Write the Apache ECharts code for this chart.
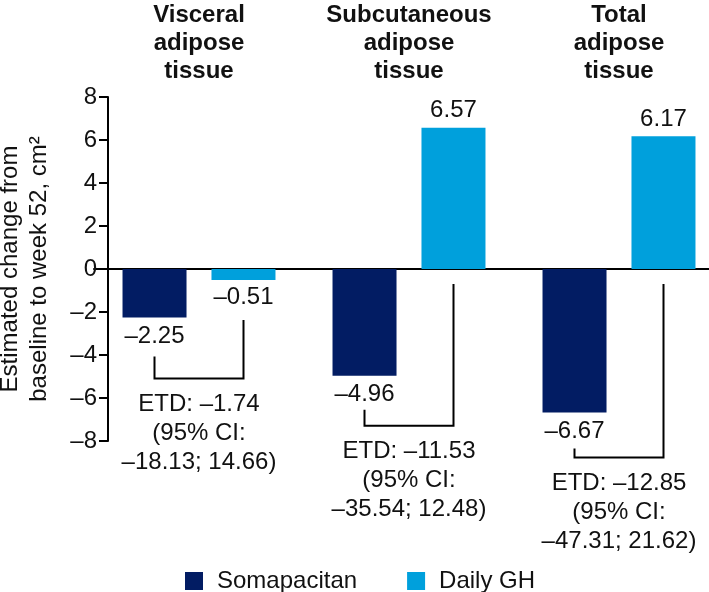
<!DOCTYPE html>
<html><head><meta charset="utf-8">
<script src="https://cdn.jsdelivr.net/npm/echarts@6/dist/echarts.min.js"></script>
<style>html,body{margin:0;padding:0;background:#fff}#c{width:709px;height:592px}</style>
</head><body><div id="c"></div>
<script>
const categories = ['Visceral\nadipose\ntissue', 'Subcutaneous\nadipose\ntissue', 'Total\nadipose\ntissue'];
const somapacitan = [-2.25, -4.96, -6.67];
const dailyGH = [-0.51, 6.57, 6.17];
const etd = [-1.74, -11.53, -12.85];
const ciLow = [-18.13, -35.54, -47.31];
const ciHigh = [14.66, 12.48, 21.62];
const yTicks = {min: -8, max: 8, interval: 2};

// layout-only constants (pixels)
const leftGap = [39, 34, 36];
const dropGap = [61, 50, 45];
const barOff = 44.5;

const NAVY = '#021c63';
const LIGHT = '#00a0dc';
const TXT = '#111';
const FONT = 'Liberation Sans, Arial, sans-serif';
const FS = 24;
const dash = v => (v < 0 ? '\u2013' + Math.abs(v) : String(v));
const dash2 = v => (v < 0 ? '\u2013' + Math.abs(v).toFixed(2) : v.toFixed(2));
const withLabelSide = arr => arr.map(v => ({value: v, label: {position: v < 0 ? 'bottom' : 'top'}}));

const chart = echarts.init(document.getElementById('c'), null, {renderer: 'canvas'});
chart.setOption({
  animation: false,
  textStyle: {fontFamily: FONT},
  grid: {left: 94, width: 630, top: 97, height: 344, containLabel: false, outerBoundsMode: 'none'},
  legend: {
    data: ['Somapacitan', 'Daily GH'],
    left: 180, top: 564, icon: 'rect', itemWidth: 18, itemHeight: 18, itemGap: 50,
    textStyle: {fontSize: FS, color: TXT, fontFamily: FONT, padding: [0, 0, 0, 9]}
  },
  xAxis: [
    {type: 'category', data: categories, axisLine: {onZero: true, lineStyle: {color: '#000', width: 2}},
     axisTick: {show: false}, axisLabel: {show: false}},
    {type: 'category', data: categories, position: 'top', axisLine: {show: false}, axisTick: {show: false},
     axisLabel: {interval: 0, hideOverlap: false, fontSize: FS, fontWeight: 'bold', color: TXT, lineHeight: 28, margin: 12, fontFamily: FONT}}
  ],
  yAxis: {
    type: 'value', min: yTicks.min, max: yTicks.max, interval: yTicks.interval, offset: -14,
    name: 'Estimated change from\nbaseline to week 52, cm\u00b2', nameLocation: 'middle', nameGap: 54,
    nameTextStyle: {fontSize: FS, color: TXT, lineHeight: 29, fontFamily: FONT},
    axisLine: {show: true, lineStyle: {color: '#000', width: 2}},
    axisTick: {show: true, length: 9, lineStyle: {color: '#000', width: 2}},
    axisLabel: {fontSize: FS, color: TXT, margin: 11, formatter: dash, fontFamily: FONT},
    splitLine: {show: false}
  },
  series: [
    {name: 'Somapacitan', type: 'bar', data: withLabelSide(somapacitan), barWidth: 64, barGap: '39%',
     itemStyle: {color: NAVY},
     label: {show: true, distance: 7, fontSize: FS, color: TXT, formatter: p => dash2(p.value)}},
    {name: 'Daily GH', type: 'bar', data: withLabelSide(dailyGH), barWidth: 64, barGap: '39%',
     itemStyle: {color: LIGHT},
     label: {show: true, distance: 5, fontSize: FS, color: TXT, formatter: p => dash2(p.value)}},
    {name: 'etd', type: 'custom', xAxisIndex: 0,
     data: categories.map((c, i) => [i, somapacitan[i], dailyGH[i], etd[i], ciLow[i], ciHigh[i]]),
     renderItem: (params, api) => {
       const i = api.value(0);
       const base = api.coord([i, 0]);
       const xc = base[0], y0 = base[1];
       const ys = api.coord([i, api.value(1)])[1];
       const gv = api.value(2);
       const yg = api.coord([i, gv])[1];
       const xl = xc - barOff, xr = xc + barOff;
       const yTopL = ys + leftGap[i];
       const yH = ys + dropGap[i];
       const yTopR = Math.max(y0, yg) + (gv < 0 ? 40 : 15);
       const txt = 'ETD: ' + dash2(api.value(3)) + '\n(95% CI:\n' + dash2(api.value(4)) + '; ' + dash2(api.value(5)) + ')';
       return {type: 'group', children: [
         {type: 'polyline', shape: {points: [[xl, yTopL], [xl, yH], [xr, yH], [xr, yTopR]]},
          style: {stroke: '#000', lineWidth: 2, fill: null}},
         {type: 'text', x: xc, y: yH + 11,
          style: {text: txt, fontSize: FS, lineHeight: 29, fill: TXT, align: 'center', verticalAlign: 'top', fontFamily: FONT}}
       ]};
     }}
  ]
});
</script></body></html>
